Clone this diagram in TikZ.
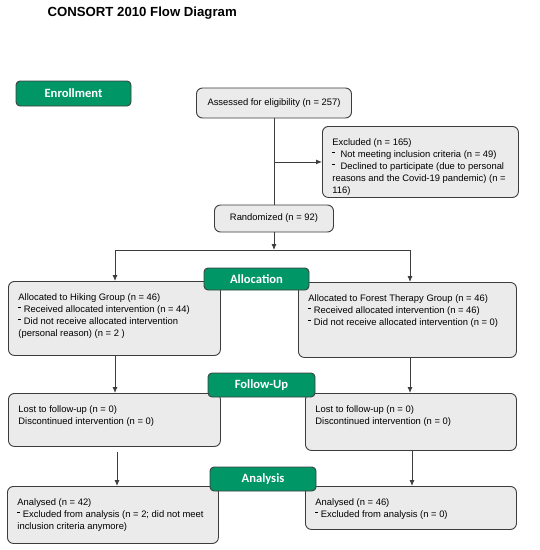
\documentclass[tikz,border=0pt]{standalone}
\usepackage{fontspec}
\setmainfont{Liberation Sans}
\newfontfamily\labelfont{Carlito}
\usetikzlibrary{arrows.meta}
\definecolor{consortgreen}{RGB}{0,150,102}
\definecolor{boxgrey}{RGB}{235,235,235}
\definecolor{linegrey}{RGB}{60,60,60}
\def\boxtext#1#2#3{\parbox[c][#2pt][t]{#1pt}{\raggedright\vspace*{12pt}#3}}
\def\sdash{\raisebox{0.55em}{\rule{3pt}{0.4pt}}\hspace{2.5pt}}
\tikzset{
  greybox/.style={draw=linegrey, fill=boxgrey, line width=0.9pt, rounded corners=6pt,
    font=\fontsize{9.4}{12}\selectfont, inner xsep=10pt, inner ysep=0pt},
  greenbox/.style={draw=black!75, fill=consortgreen, line width=0.9pt, rounded corners=4pt,
    text=white, font=\labelfont\bfseries\fontsize{12.6}{14}\selectfont, inner sep=0pt},
  conn/.style={draw=linegrey, line width=0.9pt},
  arr/.style={conn, -{Latex[length=6pt,width=5pt]}}
}
\begin{document}
\begin{tikzpicture}[x=1pt, y=-1pt]
			%%%%% START %%%%%
			\useasboundingbox (0,0) rectangle (540,550);
			
			\node[anchor=west, font=\bfseries\fontsize{13.2}{15}\selectfont] (title) at (44,13) {CONSORT 2010 Flow Diagram};
			
			% enrollment
			\node[greybox, inner sep=0pt, minimum width=155pt, minimum height=30pt] (assessed) at (274,103) {Assessed for eligibility (n = 257)};
			\node[greybox, anchor=north west] (excl) at (322,126) {\boxtext{176}{71}{Excluded (n = 165)\\
				\sdash\ Not meeting inclusion criteria (n = 49)\\
				\sdash\ Declined to participate (due to personal\\
				reasons and the Covid-19 pandemic) (n =\\
				116)}};
			\node[greybox, inner sep=0pt, minimum width=119pt, minimum height=27pt] (randomized) at (274,218.5) {Randomized (n = 92)};
			
			% allocation
			\node[greybox, anchor=north west] (hiking) at (8,281) {\boxtext{192}{74}{Allocated to Hiking Group (n = 46)\\
				\sdash Received allocated intervention (n = 44)\\
				\sdash Did not receive allocated intervention\\
				(personal reason) (n = 2 )}};
			\node[greybox, anchor=north west] (forest) at (298,282) {\boxtext{198}{75}{Allocated to Forest Therapy Group (n = 46)\\
				\sdash Received allocated intervention (n = 46)\\
				\sdash Did not receive allocated intervention (n = 0)}};
			
			% follow-up
			\node[greybox, anchor=north west] (lostL) at (8,393) {\boxtext{192}{53}{Lost to follow-up (n = 0)\\
				Discontinued intervention (n = 0)}};
			\node[greybox, anchor=north west] (lostR) at (305,393) {\boxtext{191}{57}{Lost to follow-up (n = 0)\\
				Discontinued intervention (n = 0)}};
			
			% analysis
			\node[greybox, anchor=north west] (anaL) at (7,486) {\boxtext{191}{57}{Analysed (n = 42)\\
				\sdash Excluded from analysis (n = 2; did not meet\\
				inclusion criteria anymore)}};
			\node[greybox, anchor=north west] (anaR) at (305,486) {\boxtext{191}{43}{Analysed (n = 46)\\
				\sdash Excluded from analysis (n = 0)}};
			
			% stage labels
			\node[greenbox, minimum width=115pt, minimum height=25pt] (enroll) at (73.5,93.5) {Enrollment};
			\node[greenbox, minimum width=105pt, minimum height=22pt] (alloc) at (256.5,279) {Allocation};
			\node[greenbox, minimum width=107pt, minimum height=24pt] (follow) at (261.5,385) {Follow-Up};
			\node[greenbox, minimum width=106pt, minimum height=24pt] (analysis) at (263,479) {Analysis};
			
			% connectors
			\coordinate (exclsplit) at (assessed.south |- excl.west);
			\coordinate (split) at (274,250);
			\coordinate (splitL) at (115,250);
			\coordinate (splitR) at (410,250);
			
			\draw[conn] (assessed.south) -- (randomized.north);
			\draw[arr] (exclsplit) -- (excl.west);
			\draw[arr] (randomized.south) -- (split);
			\draw[conn] (splitL) -- (splitR);
			\draw[arr] (splitL) -- (splitL |- hiking.north);
			\draw[arr] (splitR) -- (splitR |- forest.north);
			\draw[arr] (splitL |- hiking.south) -- (splitL |- lostL.north);
			\draw[arr] (splitR |- forest.south) -- (splitR |- lostR.north);
			\draw[arr] ([xshift=2pt]splitL |- lostL.south) ++(0,5) -- ([xshift=2pt]splitL |- anaL.north);
			\draw[arr] ([xshift=2pt]splitR |- lostR.south) -- ([xshift=2pt]splitR |- anaR.north);
			
			%%%%% END %%%%%
\end{tikzpicture}
\end{document}
